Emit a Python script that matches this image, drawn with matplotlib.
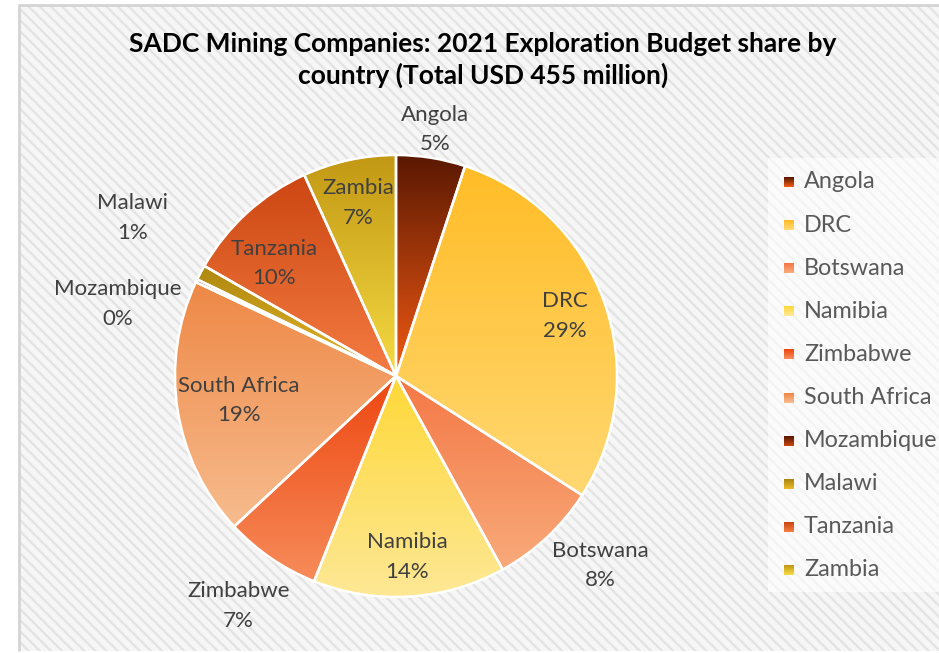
import numpy as np
import matplotlib
matplotlib.use("Agg")
import matplotlib.pyplot as plt
from matplotlib.patches import Rectangle
from matplotlib.colors import to_rgb

# Exploration budget by country, USD million (total 455)
countries = ["Angola", "DRC", "Botswana", "Namibia", "Zimbabwe",
             "South Africa", "Mozambique", "Malawi", "Tanzania", "Zambia"]
budget_musd = [23, 132, 36, 64, 32, 86, 1, 5, 45, 31]

# Gradient fill for each slice: (top colour, bottom colour)
slice_colors = [
    ("#5a1802", "#f25a14"),
    ("#ffbc26", "#ffd872"),
    ("#f47846", "#f9aa7a"),
    ("#ffd838", "#fde896"),
    ("#ee4610", "#f68c5a"),
    ("#ee8846", "#f7bc8e"),
    ("#5a1802", "#c84410"),
    ("#ad8710", "#e8b828"),
    ("#cc4612", "#f47c42"),
    ("#c29814", "#f5da42"),
]
# Label placement: radius (pie radius = 1) and angular nudge in degrees
label_radius = [1.13, 0.81, 1.26, 0.82, 1.26, 0.72, 1.30, 1.39, 0.75, 0.80]
label_nudge = [0, 0, -4, 0, 0, 0, -11, 3, -5, 0]

plt.rcParams["font.family"] = ["Lato", "DejaVu Sans"]

W, H = 939, 653
fig = plt.figure(figsize=(W / 100, H / 100), dpi=100)
fig.patch.set_facecolor("white")

# Hatched chart-area background
bg = fig.add_axes([0, 0, 1, 1])
bg.set_xlim(0, W)
bg.set_ylim(H, 0)
bg.axis("off")
plt.rcParams["hatch.linewidth"] = 1.6
bg.add_patch(Rectangle((19, 5), W - 19, 646, facecolor="#f6f6f6",
                       edgecolor="#e3e3e3", hatch="\\\\\\", lw=0))
bg.plot([19, 19, W], [651, 5, 5], color="#d4d4d4", lw=2, solid_capstyle="butt")

# Pie axes: square in pixels, centred on the pie centre
cx, cy, R = 396, 376, 221
half = 300
L = half / R
ax = fig.add_axes([(cx - half) / W, (H - cy - half) / H, 2 * half / W, 2 * half / H])
ax.set_facecolor("none")

wedges, _ = ax.pie(budget_musd, startangle=90, counterclock=False, radius=1,
                   wedgeprops=dict(edgecolor="white", linewidth=1.8))
ax.set_xlim(-L, L)
ax.set_ylim(-L, L)
ax.set_aspect("auto")
ax.axis("off")

for w, (top, bot) in zip(wedges, slice_colors):
    verts = w.get_patch_transform().transform(w.get_path().vertices)
    x0, x1 = verts[:, 0].min(), verts[:, 0].max()
    y0, y1 = verts[:, 1].min(), verts[:, 1].max()
    t = np.linspace(0, 1, 256)[:, None]
    grad = (1 - t) * np.array(to_rgb(top)) + t * np.array(to_rgb(bot))
    img = ax.imshow(grad[:, None, :], extent=(x0, x1, y0, y1), origin="upper",
                    aspect="auto", zorder=1, interpolation="bilinear")
    img.set_clip_path(w)
    w.set_facecolor("none")
    w.set_zorder(2)

ax.set_xlim(-L, L)
ax.set_ylim(-L, L)

# Data labels: category name and rounded share
total = sum(budget_musd)
cum = 0
for name, v, r, nudge in zip(countries, budget_musd, label_radius, label_nudge):
    mid = (cum + v / 2) / total * 360 + nudge
    cum += v
    a = np.deg2rad(mid)
    x, y = r * np.sin(a), r * np.cos(a)
    ax.text(x, y, f"{name}\n{v / total * 100:.0f}%", ha="center", va="center",
            fontsize=16, color="#404040", linespacing=1.6, zorder=5)

# Title
fig.text(483 / W, 1 - 60 / H,
         "SADC Mining Companies: 2021 Exploration Budget share by\ncountry (Total USD 455 million)",
         ha="center", va="center", fontsize=19, fontweight="bold",
         color="#000000", linespacing=1.3)

# Legend
bg.add_patch(Rectangle((768, 158), W - 768, 434, facecolor="white",
                       edgecolor="none", alpha=0.6))
for i, (name, (top, bot)) in enumerate(zip(countries, slice_colors)):
    yy = 182 + 43.1 * i
    for k in range(10):
        f = k / 9
        col = (1 - f) * np.array(to_rgb(top)) + f * np.array(to_rgb(bot))
        bg.add_patch(Rectangle((784, yy - 5 + k), 10, 1.05, facecolor=col,
                               edgecolor="none"))
    bg.text(804, yy, name, ha="left", va="center", fontsize=16.8,
            color="#595959")

fig.savefig("out.png", dpi=100)
